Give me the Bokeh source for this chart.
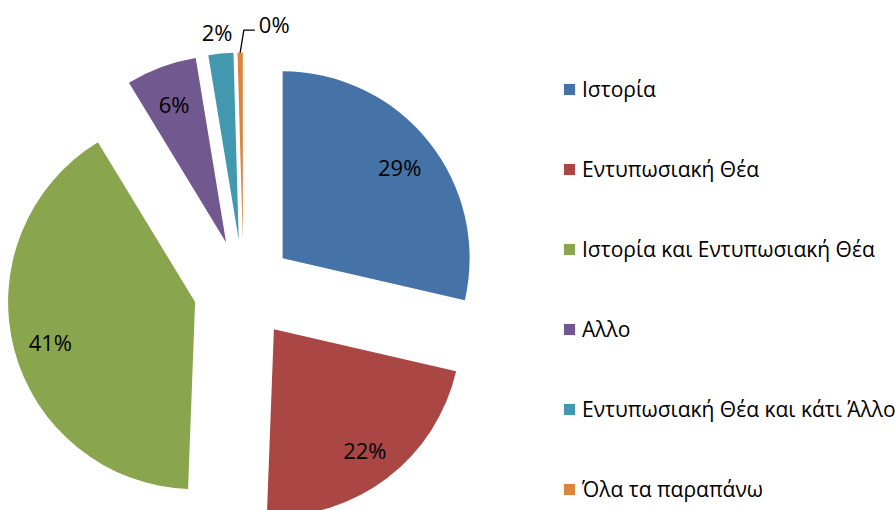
import numpy as np
from bokeh.plotting import figure
from bokeh.models import ColumnDataSource, Range1d, Legend, LegendItem
from bokeh.embed import file_html
from bokeh.resources import INLINE
from bokeh.core.properties import value

categories = ["Ιστορία", "Εντυπωσιακή Θέα", "Ιστορία και Εντυπωσιακή Θέα",
              "Αλλο", "Εντυπωσιακή Θέα και κάτι Άλλο", "Όλα τα παραπάνω"]
shares = [28.6, 22.0, 40.7, 6.1, 2.15, 0.45]
labels = ["29%", "22%", "41%", "6%", "2%", "0%"]
colors = ["#4572A7", "#AA4643", "#89A54E", "#71588F", "#4198AF", "#DB843D"]

W, H = 895, 510
CX, CY = 243, 221
R = 187
EXPLODE = 50
FONT = "Open Sans"

frac = np.array(shares) / sum(shares)
cum = np.cumsum(frac)
start = np.concatenate([[0.0], cum[:-1]]) * 2 * np.pi
end = cum * 2 * np.pi
mid = (start + end) / 2
ox = CX + EXPLODE * np.sin(mid)
oy = CY + EXPLODE * np.cos(mid)

src = ColumnDataSource(dict(
    cat=categories, x=ox, y=oy,
    sa=np.pi / 2 - start, ea=np.pi / 2 - end, color=colors,
))

p = figure(width=W, height=H, output_backend="svg", toolbar_location=None,
           x_range=Range1d(0, W), y_range=Range1d(0, H), min_border=0)
p.axis.visible = False
p.grid.visible = False
p.outline_line_color = None

wr = p.wedge(x="x", y="y", radius=R, start_angle="sa", end_angle="ea",
             direction="clock", fill_color="color", line_color=None, source=src)

# inside labels for the big slices
big = [i for i in range(len(frac)) if frac[i] >= 0.05]
lx = [ox[i] + 0.8 * R * np.sin(mid[i]) for i in big]
ly = [oy[i] + 0.8 * R * np.cos(mid[i]) - 2 for i in big]
p.text(x=lx, y=ly, text=[labels[i] for i in big], text_align="center",
       text_baseline="middle", text_font=value(FONT), text_font_size="22px",
       text_color="#000000")

# small slice (2%) label outside
i = 4
p.text(x=[ox[i] + 1.1 * R * np.sin(mid[i])], y=[oy[i] + 1.1 * R * np.cos(mid[i])],
       text=[labels[i]], text_align="center", text_baseline="middle",
       x_offset=-2, y_offset=-3,
       text_font=value(FONT), text_font_size="22px", text_color="#000000")

# tiny slice (0%) label with leader line
i = 5
px0 = ox[i] + R * np.sin(mid[i])
py0 = oy[i] + R * np.cos(mid[i])
ex = ox[i] + 1.12 * R * np.sin(mid[i]) + 4
ey = oy[i] + 1.12 * R * np.cos(mid[i])
p.line(x=[px0, ex, ex + 11], y=[py0, ey, ey], line_color="#000000", line_width=1.3)
p.text(x=[ex + 15], y=[ey + 6], text=[labels[i]], text_align="left",
       text_baseline="middle", text_font=value(FONT), text_font_size="22px",
       text_color="#000000")

items = [LegendItem(label=categories[k], renderers=[wr], index=k) for k in range(len(categories))]
legend = Legend(items=items, location=(562, 7), orientation="vertical",
                padding=0, margin=0, spacing=52, glyph_width=14, glyph_height=14,
                label_standoff=6, label_text_font=FONT, label_text_font_size="21px",
                label_text_color="#000000", border_line_color=None,
                background_fill_alpha=0)
p.add_layout(legend, "center")

open("out.html", "w").write(file_html(p, INLINE))
